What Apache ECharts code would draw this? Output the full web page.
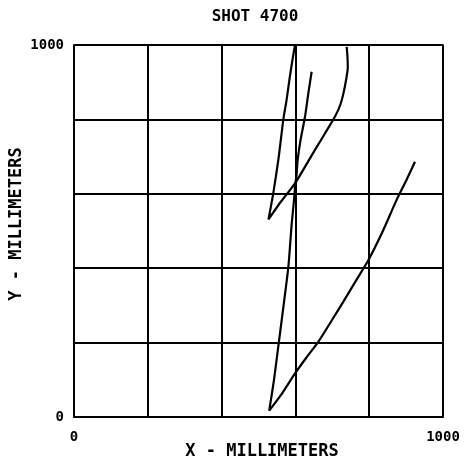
<!DOCTYPE html>
<html><head><meta charset="utf-8">
<script src="https://cdn.jsdelivr.net/npm/echarts@6/dist/echarts.min.js"></script>
<style>html,body{margin:0;padding:0;background:#fff}#c{width:465px;height:460px}</style>
</head><body><div id="c"></div>
<script>
const titleText = "SHOT 4700";
const xName = "X - MILLIMETERS";
const yName = "Y - MILLIMETERS";
const tickLabels = ["0", "1000"];
// Track 1: short segment down the middle, down to bottom, then up-right
const track1 = [[644,928],[635,870],[626,807],[614,745],[606,690],[603,650],[600,628],[596,580],[590,520],[581,404],[568,300],[555,200],[542,100],[529,17],[565,65],[599,117],[630,160],[662,202],[700,262],[730,310],[765,368],[798,422],[837,500],[874,583],[900,635],[924,686]];
// Track 2: from top down-left, then curving up-right
const track2 = [[599,1000],[592,960],[585,915],[576,852],[567,798],[555,700],[540,601],[527,531],[560,578],[599,628],[653,718],[680,762],[707,807],[722,840],[734,888],[742,942],[741,970],[739,995]];

const chart = echarts.init(document.getElementById('c'), null, {renderer:'canvas'});
const font = '"DejaVu Sans Mono", monospace';
const axisCommon = {
  type:'value', min:0, max:1000, interval:200,
  axisLine:{show:true, lineStyle:{color:'#000', width:1.5}},
  axisTick:{show:false},
  splitLine:{show:true, lineStyle:{color:'#000', width:2}},
  axisLabel:{color:'#000', fontFamily:font, fontWeight:'bold', fontSize:14,
    formatter:v => v===0 ? tickLabels[0] : (v===1000 ? tickLabels[1] : '')}
};
chart.setOption({
  animation:false,
  backgroundColor:'#fff',
  grid:{left:74, top:45, width:369, height:372, show:true, borderColor:'#000', borderWidth:1.5, backgroundColor:'transparent'},
  xAxis:Object.assign({}, axisCommon, {axisLabel:Object.assign({}, axisCommon.axisLabel, {margin:13})}),
  yAxis:Object.assign({}, axisCommon, {axisLabel:Object.assign({}, axisCommon.axisLabel, {margin:10})}),
  graphic:[
    {type:'text', x:255, y:17, style:{text:titleText, font:'bold 16px '+font, fill:'#000', align:'center', verticalAlign:'middle'}},
    {type:'text', x:262, y:452, style:{text:xName, font:'bold 17px '+font, fill:'#000', align:'center', verticalAlign:'middle'}},
    {type:'text', x:17, y:224, rotation:Math.PI/2, style:{text:yName, font:'bold 17px '+font, fill:'#000', align:'center', verticalAlign:'middle'}}
  ],
  series:[
    {type:'line', data:track1, showSymbol:false, smooth:0.2, lineStyle:{color:'#000', width:2.2}, z:5},
    {type:'line', data:track2, showSymbol:false, smooth:0.2, lineStyle:{color:'#000', width:2.2}, z:5}
  ]
});
</script></body></html>
